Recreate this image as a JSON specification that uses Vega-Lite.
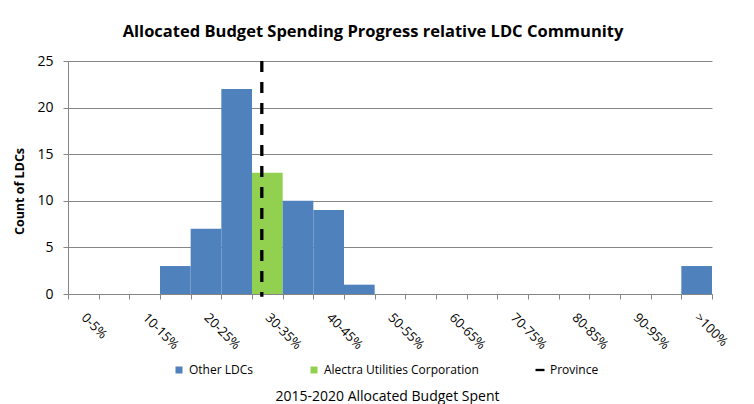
{
  "$schema": "https://vega.github.io/schema/vega-lite/v6.json",
  "width": 644,
  "height": 233,
  "autosize": "none",
  "padding": {"left": 68, "top": 61, "right": 42, "bottom": 110},
  "background": "white",
  "title": {
    "text": "Allocated Budget Spending Progress relative LDC Community",
    "font": "Open Sans",
    "fontSize": 16.5,
    "fontWeight": "bold",
    "color": "#000000",
    "anchor": "middle",
    "dx": -17,
    "offset": 14
  },
  "config": {
    "font": "Open Sans",
    "view": {"stroke": null}
  },
  "datasets": {
    "bins": [
      {"range": "0-5%", "count": 0, "series": "Other LDCs"},
      {"range": "5-10%", "count": 0, "series": "Other LDCs"},
      {"range": "10-15%", "count": 0, "series": "Other LDCs"},
      {"range": "15-20%", "count": 3, "series": "Other LDCs"},
      {"range": "20-25%", "count": 7, "series": "Other LDCs"},
      {"range": "25-30%", "count": 22, "series": "Other LDCs"},
      {"range": "30-35%", "count": 13, "series": "Alectra Utilities Corporation"},
      {"range": "35-40%", "count": 10, "series": "Other LDCs"},
      {"range": "40-45%", "count": 9, "series": "Other LDCs"},
      {"range": "45-50%", "count": 1, "series": "Other LDCs"},
      {"range": "50-55%", "count": 0, "series": "Other LDCs"},
      {"range": "55-60%", "count": 0, "series": "Other LDCs"},
      {"range": "60-65%", "count": 0, "series": "Other LDCs"},
      {"range": "65-70%", "count": 0, "series": "Other LDCs"},
      {"range": "70-75%", "count": 0, "series": "Other LDCs"},
      {"range": "75-80%", "count": 0, "series": "Other LDCs"},
      {"range": "80-85%", "count": 0, "series": "Other LDCs"},
      {"range": "85-90%", "count": 0, "series": "Other LDCs"},
      {"range": "90-95%", "count": 0, "series": "Other LDCs"},
      {"range": "95-100%", "count": 0, "series": "Other LDCs"},
      {"range": ">100%", "count": 3, "series": "Other LDCs"}
    ],
    "province": [
      {"series": "Province", "spent": 31.6}
    ]
  },
  "layer": [
    {
      "data": {"name": "bins"},
      "mark": {"type": "bar"},
      "encoding": {
        "x": {
          "field": "range",
          "type": "ordinal",
          "sort": null,
          "scale": {"paddingInner": 0, "paddingOuter": 0},
          "axis": {
            "title": "2015-2020 Allocated Budget Spent",
            "titleFont": "Open Sans",
            "titleFontSize": 14,
            "titleFontWeight": "normal",
            "titleColor": "#000000",
            "titleX": 319,
            "titleY": 106,
            "titleAlign": "center",
            "titleBaseline": "alphabetic",
            "tickBand": "extent",
            "tickSize": 5,
            "tickColor": "#868686",
            "domainColor": "#868686",
            "grid": false,
            "labelAngle": 45,
            "labelAlign": "left",
            "labelBaseline": "top",
            "labelFont": "Open Sans",
            "labelFontSize": 13,
            "labelColor": "#000000",
            "labelOverlap": false,
            "labelPadding": 12,
            "labelOffset": 4,
            "labelExpr": "test(regexp('^[0-9]*5-'), datum.value) ? '' : datum.label"
          }
        },
        "y": {
          "field": "count",
          "type": "quantitative",
          "scale": {"domain": [0, 25], "nice": false},
          "axis": {
            "title": "Count of LDCs",
            "titleFont": "Open Sans",
            "titleFontSize": 12.5,
            "titleFontWeight": "bold",
            "titleColor": "#000000",
            "titleAngle": -90,
            "titleX": -49,
            "titleY": 130,
            "titleAlign": "center",
            "titleBaseline": "middle",
            "values": [0, 5, 10, 15, 20, 25],
            "grid": true,
            "gridColor": "#868686",
            "domainColor": "#868686",
            "tickColor": "#868686",
            "tickSize": 5,
            "labelFont": "Open Sans",
            "labelFontSize": 14,
            "labelColor": "#000000",
            "labelPadding": 10
          }
        },
        "color": {
          "field": "series",
          "type": "nominal",
          "scale": {
            "domain": ["Other LDCs", "Alectra Utilities Corporation", "Province"],
            "range": ["#4F81BD", "#92D050", "#000000"]
          },
          "legend": {
            "orient": "none",
            "legendX": 105,
            "legendY": 303,
            "direction": "horizontal",
            "title": null,
            "symbolType": "square",
            "symbolSize": 49,
            "labelFont": "Open Sans",
            "labelFontSize": 12,
            "labelColor": "#000000",
            "labelOffset": 4,
            "columnPadding": 55,
            "encode": {
              "symbols": {
                "update": {
                  "shape": {"signal": "datum.value === 'Province' ? 'M-1,-0.26H1V0.26H-1Z' : 'square'"},
                  "size": {"signal": "datum.value === 'Province' ? 81 : 49"},
                  "fill": {"signal": "datum.value === 'Province' ? '#000000' : (datum.value === 'Other LDCs' ? '#4F81BD' : '#92D050')"},
                  "fillOpacity": {"value": 1},
                  "opacity": {"value": 1},
                  "stroke": {"value": "transparent"},
                  "strokeWidth": {"value": 0}
                }
              }
            }
          }
        }
      }
    },
    {
      "data": {"name": "province"},
      "mark": {"type": "rule", "strokeDash": [11, 10], "strokeWidth": 3.3},
      "encoding": {
        "x": {
          "field": "spent",
          "type": "quantitative",
          "scale": {"domain": [0, 105], "nice": false, "zero": true},
          "axis": null
        },
        "y": {"datum": 25, "type": "quantitative", "scale": {"domain": [0, 25], "nice": false}},
        "y2": {"datum": -0.3},
        "color": {
          "field": "series",
          "type": "nominal",
          "scale": {
            "domain": ["Other LDCs", "Alectra Utilities Corporation", "Province"],
            "range": ["#4F81BD", "#92D050", "#000000"]
          }
        }
      }
    }
  ],
  "resolve": {"scale": {"x": "independent"}}
}
